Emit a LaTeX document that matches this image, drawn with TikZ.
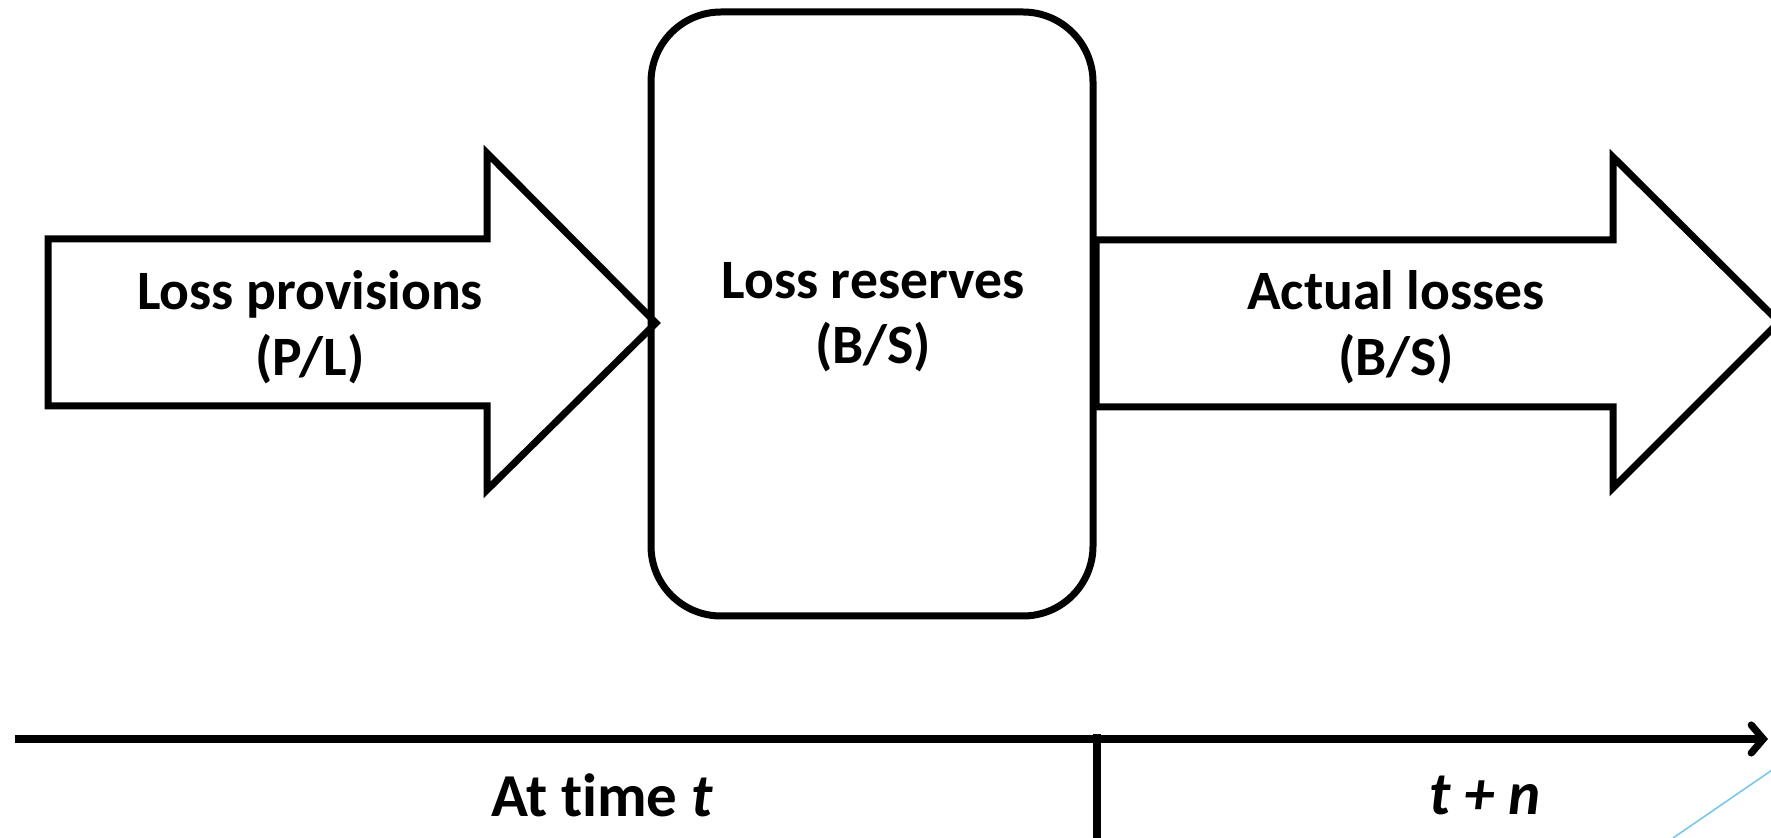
\documentclass[tikz,border=0pt]{standalone}
\usepackage{fontspec}
\setmainfont{Carlito}[Ligatures=NoCommon]
\usetikzlibrary{arrows.meta}
\definecolor{skyline}{RGB}{120,200,235}
\begin{document}
\begin{tikzpicture}[x=0.5pt,y=-0.5pt,
  outline/.style={draw=black,line width=3.5pt,line join=miter},
  lbl/.style={font=\bfseries\fontsize{27.8}{32.75}\selectfont,align=center,inner sep=0pt},
  timelbl/.style={font=\bfseries\fontsize{30.5}{36}\selectfont,inner sep=0pt},
  axis/.style={line width=3.6pt,-{Straight Barb[length=6pt,width=14pt,line cap=round]}}]
\useasboundingbox (0,0) rectangle (1771,838);
\clip (0,0) rectangle (1771,838);
% box
\draw[outline,rounded corners=35pt] (651,12) rectangle (1093,616);
% left arrow
\draw[outline] (48,239) -- (487,239) -- (487,153) -- (656,323) -- (487,490) -- (487,406) -- (48,406) -- cycle;
% right arrow
\draw[outline] (1096,240) -- (1613,240) -- (1613,157) -- (1779,322) -- (1613,488) -- (1613,407) -- (1096,407) -- cycle;
% labels
\node[lbl] (prov) at (310,327) {Loss provisions\\(P/L)};
\node[lbl] (res) at (873,317) {Loss reserves\\(B/S)};
\node[lbl] (act) at (1396,327) {Actual losses\\(B/S)};
% timeline
\coordinate (tl) at (15,739);
\coordinate (tr) at (1768,739);
\coordinate (tickt) at (1097,734);
\coordinate (tickb) at (1097,845);
\draw[axis] (tl) -- (tr);
\draw[line width=3.6pt] (tickt) -- (tickb);
\node[timelbl] (at) at (602,795) {At time \textit{t}};
\node[timelbl] (tn) at (1485,795) {\textit{t + n}};
% blue line
\coordinate (b1) at (1673,838);
\coordinate (b2) at (1775,768);
\draw[skyline,line width=0.8pt] (b1) -- (b2);
\end{tikzpicture}
\end{document}
